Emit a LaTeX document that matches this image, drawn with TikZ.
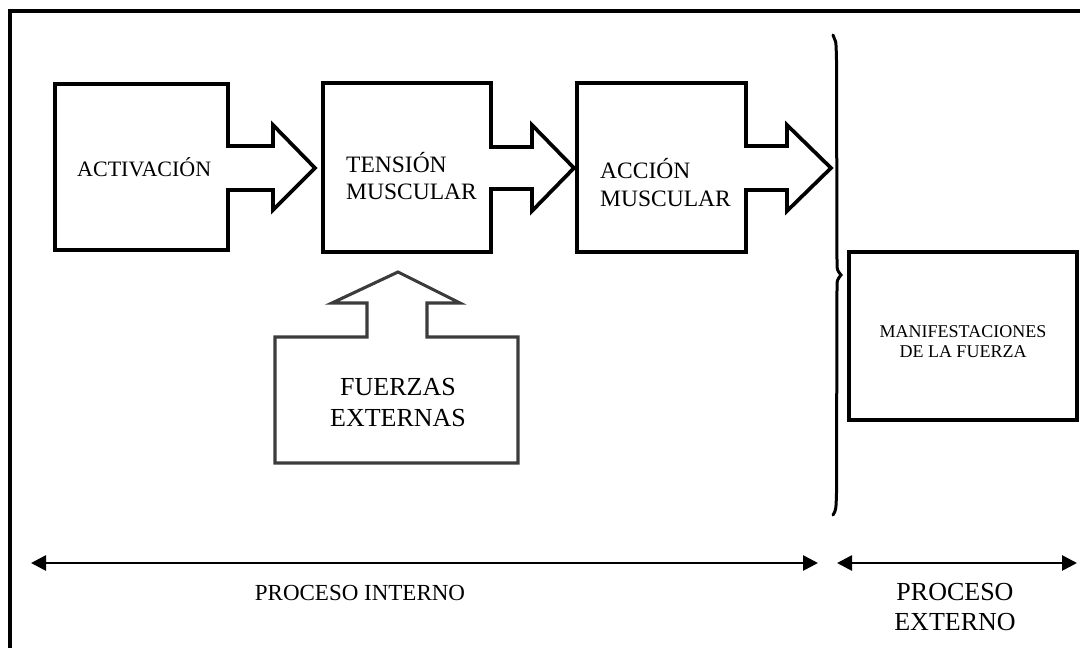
\documentclass[tikz,border=0pt]{standalone}
\usepackage{fontspec}
\setmainfont{Liberation Serif}
\usetikzlibrary{arrows.meta}
\definecolor{grayline}{HTML}{3C3C3C}
\tikzset{
  boxline/.style={draw=black, line width=3.7pt, line join=miter},
  extline/.style={draw=grayline, line width=3.1pt, line join=miter},
  lbl/.style={inner sep=0pt, anchor=base},
  lbll/.style={inner sep=0pt, anchor=base west},
  dimarrow/.style={line width=2.7pt, {Triangle[length=15pt,width=15pt]}-{Triangle[length=15pt,width=15pt]}},
  bracestyle/.style={line width=3pt, line cap=round},
}
\begin{document}
\begin{tikzpicture}[x=1pt,y=-1pt]
\useasboundingbox (0,0) rectangle (1080,648);
\clip (0,0) rectangle (1080,648);
% outer frame (extends beyond the page on right and bottom)
\draw[line width=3.7pt] (10,700) -- (10,11) -- (1100,11);

% box 1 with arrow
\draw[boxline] (55,84) -- (228,84) -- (228,146) -- (273,146) -- (273,125) -- (315,168)
  -- (273,210) -- (273,190) -- (228,190) -- (228,250) -- (55,250) -- cycle;
% box 2 with arrow
\draw[boxline] (323,83) -- (491,83) -- (491,147) -- (532,147) -- (532,125) -- (574,168)
  -- (532,211) -- (532,189) -- (491,189) -- (491,252) -- (323,252) -- cycle;
% box 3 with arrow
\draw[boxline] (577,83) -- (746,83) -- (746,146) -- (787,146) -- (787,125) -- (831,168)
  -- (787,211) -- (787,190) -- (746,190) -- (746,252) -- (577,252) -- cycle;
% external forces box with upward arrow
\draw[extline] (275,337) -- (367,337) -- (367,303) -- (332,303) -- (398,272) -- (460,303)
  -- (427,303) -- (427,337) -- (518,337) -- (518,463) -- (275,463) -- cycle;
% manifestations box
\draw[boxline] (849,252) rectangle (1077,420);

% brace
\draw[bracestyle] (833,35) .. controls (836,40) .. (836.5,60) -- (837,262)
  .. controls (837,270) .. (841,275) .. controls (837,280) .. (837,288)
  -- (836.5,493) .. controls (836,510) .. (833,515);

% texts
\node[lbll, font=\fontsize{22}{26}\selectfont] (act) at (77,176) {ACTIVACIÓN};
\node[lbll, font=\fontsize{23.5}{27}\selectfont] (ten1) at (346,172) {TENSIÓN};
\node[lbll, font=\fontsize{23.5}{27}\selectfont] (ten2) at (346,199) {MUSCULAR};
\node[lbll, font=\fontsize{23.5}{27}\selectfont] (acc1) at (600,178) {ACCIÓN};
\node[lbll, font=\fontsize{23.5}{27}\selectfont] (acc2) at (600,206) {MUSCULAR};
\node[lbl, font=\fontsize{26}{30}\selectfont] (fue1) at (398,395) {FUERZAS};
\node[lbl, font=\fontsize{26}{30}\selectfont] (fue2) at (398,426) {EXTERNAS};
\node[lbl, font=\fontsize{18}{21}\selectfont] (man1) at (963,337) {MANIFESTACIONES};
\node[lbl, font=\fontsize{18}{21}\selectfont] (man2) at (963,357) {DE LA FUERZA};
\node[lbl, font=\fontsize{23}{27}\selectfont] (pint) at (360,600) {PROCESO INTERNO};
\node[lbl, font=\fontsize{26}{30}\selectfont] (pex1) at (955,600) {PROCESO};
\node[lbl, font=\fontsize{26}{30}\selectfont] (pex2) at (955,630) {EXTERNO};

% bottom span arrows
\coordinate (intL) at (31,563);
\coordinate (intR) at (818,563);
\coordinate (extL) at (837,563);
\coordinate (extR) at (1077,563);
\draw[dimarrow] (intL) -- (intR);
\draw[dimarrow] (extL) -- (extR);
\end{tikzpicture}
\end{document}
